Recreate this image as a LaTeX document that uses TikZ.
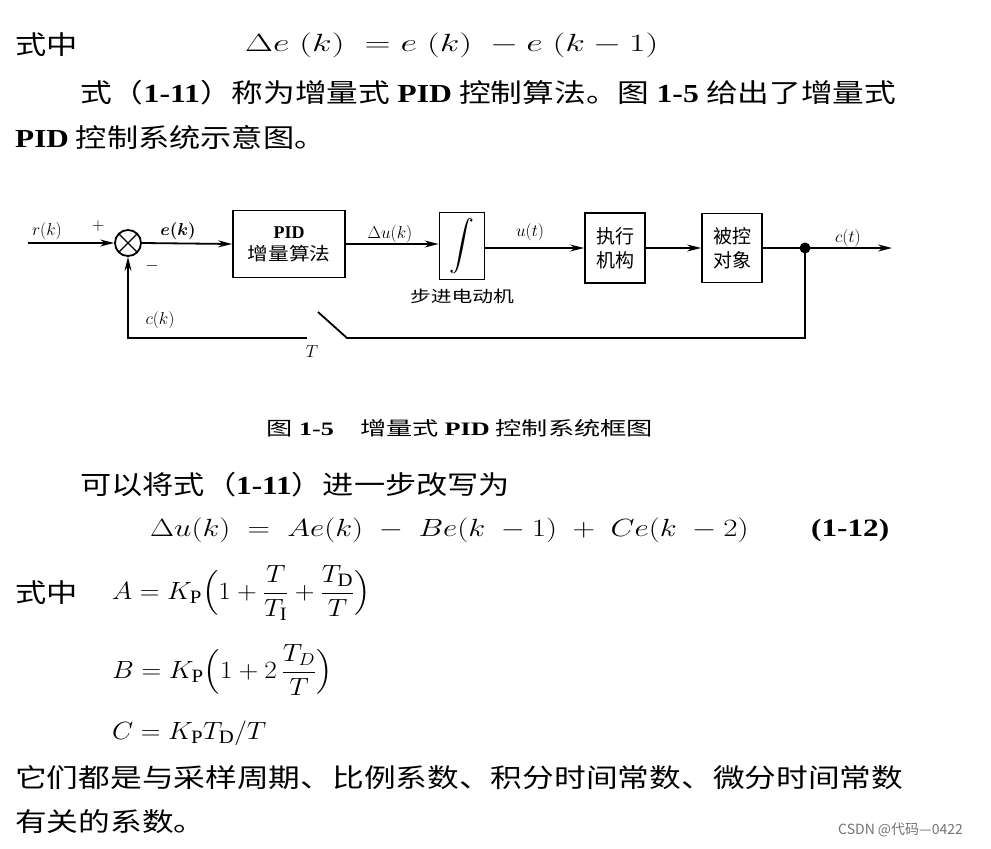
\documentclass[tikz,border=0pt]{standalone}
\usepackage{fontspec}
\usepackage{amsmath}
\usepackage{graphicx}
\setmainfont{Liberation Serif}
\newfontfamily\cjk{Noto Sans CJK SC}
\newcommand{\lat}[1]{{\rmfamily\bfseries #1}}
\newcommand{\hs}[2]{\scalebox{#1}[1]{#2}}
\usetikzlibrary{arrows.meta}
\begin{document}
\begin{tikzpicture}[x=1pt,y=-1pt,
  txt/.style={anchor=west,inner sep=0,font=\fontsize{26}{30}\selectfont\cjk},
  mtx/.style={anchor=west,inner sep=0,font=\fontsize{25}{30}\selectfont},
  dtx/.style={inner sep=0,font=\fontsize{17}{20}\selectfont},
  blk/.style={draw,line width=1.8pt,inner sep=0},
  ln/.style={line width=1.8pt},
  arr/.style={ln,-{Stealth[length=14pt,width=7pt]}}]
\useasboundingbox (0,0) rectangle (991,849);
\fill[white] (0,0) rectangle (991,849);
% top text
\node[txt] (t1) at (15,45) {\hs{1.2}{式中}};
\node[mtx] (f1) at (245,45) {\hs{1.45}{$\Delta e\;(k)\;=e\;(k)\;-e\;(k-1)$}};
\node[txt] (t2) at (80,93) {\hs{1.22}{式（\lat{1-11}）称为增量式 \lat{PID} 控制算法。图 \lat{1-5} 给出了增量式}};
\node[txt] (t3) at (15,137) {\hs{1.2}{\lat{PID} 控制系统示意图。}};
% diagram
\node[draw,circle,ln,minimum size=26pt,inner sep=0] (s) at (128,243) {};
\draw[line width=1.3pt] (s.north west)--(s.south east) (s.north east)--(s.south west);
\node[blk,minimum width=112pt,minimum height=67pt,font=\fontsize{18}{22}\selectfont\cjk,align=center] (pid) at (289,244) {\lat{PID}\\\hs{1.15}{增量算法}};
\node[blk,minimum width=45pt,minimum height=67pt] (int) at (462,246) {\fontsize{30}{30}\selectfont$\displaystyle\int$};
\node[blk,minimum width=60pt,minimum height=70pt,font=\fontsize{19}{24}\selectfont\cjk,align=center] (act) at (615,248) {执行\\机构};
\node[blk,minimum width=60pt,minimum height=69pt,font=\fontsize{19}{24}\selectfont\cjk,align=center] (pl) at (732,248) {被控\\对象};
\fill (805,248) circle (5.5pt);
\coordinate (d) at (805,248);
\coordinate (in) at (28,243);
\coordinate (out) at (892,248);
\coordinate (fb) at (805,338);
\coordinate (sw1) at (347,338);
\coordinate (sw2) at (318,312);
\coordinate (sw3) at (307,338);
\coordinate (fl) at (128,338);
\draw[arr] (in)--(s.west);
\draw[arr] (s.east)--(pid.west);
\draw[arr] (pid.east)--(int.west|-pid.east);
\draw[arr] (int.east|-act.west)--(act.west);
\draw[arr] (act.east)--(pl.west);
\draw[ln] (pl.east)--(d);
\draw[arr] (d)--(out);
\draw[ln] (d)--(fb)--(sw1)--(sw2);
\draw[arr] (sw3)--(fl)--(s.south);
\node[dtx] (l1) at (47,231) {$r(k)$};
\node[dtx] (l2) at (98,226) {$+$};
\node[dtx] (l3) at (178,231) {$\boldsymbol{e(k)}$};
\node[dtx] (l4) at (152,266) {$-$};
\node[dtx] (l5) at (390,234) {$\Delta u(k)$};
\node[dtx] (l6) at (530,232) {$u(t)$};
\node[dtx] (l7) at (848,238) {$c(t)$};
\node[dtx,font=\fontsize{16}{19}\selectfont\cjk] (l8) at (462,296) {\hs{1.3}{步进电动机}};
\node[dtx] (l9) at (160,320) {$c(k)$};
\node[dtx] (l10) at (312,352) {$T$};
\node[dtx,font=\fontsize{19}{22}\selectfont\cjk] (cap) at (460,428) {\hs{1.38}{图 \lat{1-5}\quad 增量式 \lat{PID} 控制系统框图}};
% lower text
\node[txt] (t4) at (80,485) {\hs{1.2}{可以将式（\lat{1-11}）进一步改写为}};
\node[mtx] (f2) at (150,530) {\hs{1.25}{$\Delta u(k)\;=\;Ae(k)\;-\;Be(k\;-1)\;+\;Ce(k\;-2)$\qquad\lat{(1-12)}}};
\node[txt] (t5) at (15,593) {\hs{1.2}{式中}};
\node[mtx,font=\fontsize{27}{32}\selectfont] (f3) at (112,593) {\hs{1.1}{$A=K_{\mathrm P}\Bigl(1+\dfrac{T}{T_{\mathrm I}}+\dfrac{T_{\mathrm D}}{T}\Bigr)$}};
\node[mtx,font=\fontsize{27}{32}\selectfont] (f4) at (112,670) {\hs{1.1}{$B=K_{\mathrm P}\Bigl(1+2\,\dfrac{T_{D}}{T}\Bigr)$}};
\node[mtx,font=\fontsize{27}{32}\selectfont] (f5) at (112,733) {\hs{1.1}{$C=K_{\mathrm P}T_{\mathrm D}/T$}};
\node[txt] (t6) at (15,778) {\hs{1.22}{它们都是与采样周期、比例系数、积分时间常数、微分时间常数}};
\node[txt] (t7) at (15,822) {\hs{1.22}{有关的系数。}};
\node[txt,font=\fontsize{14}{16}\selectfont\cjk,text=black!55] (wm) at (838,830) {CSDN @代码—0422};
\end{tikzpicture}
\end{document}
